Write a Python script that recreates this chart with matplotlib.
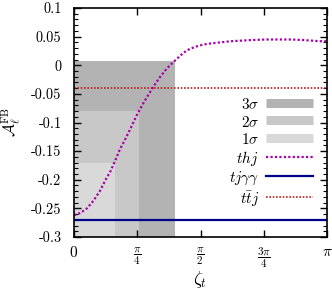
import numpy as np
import matplotlib
matplotlib.use("Agg")
import matplotlib.pyplot as plt
from matplotlib.lines import Line2D

plt.rcParams['font.family'] = 'serif'
plt.rcParams['font.serif'] = ['cmr10']
plt.rcParams['mathtext.fontset'] = 'cm'
plt.rcParams['axes.unicode_minus'] = False

# thj curve
zeta = [0.0, 0.08, 0.16, 0.24, 0.32, 0.40, 0.45, 0.51, 0.57, 0.63, 0.70, 0.78, 0.87,
        0.97, 1.06, 1.15, 1.26, 1.33, 1.40, 1.50, 1.60, 1.69, 1.82, 1.95, 2.08,
        2.20, 2.39, 2.55, 2.70, 2.85, 2.95, 3.05, 3.1416]
a_thj = [-0.262, -0.258, -0.250, -0.237, -0.220, -0.198, -0.186, -0.167, -0.147,
         -0.131, -0.111, -0.087, -0.064, -0.041, -0.022, -0.006, 0.009, 0.018,
         0.026, 0.032, 0.036, 0.038, 0.040, 0.042, 0.043, 0.044, 0.045, 0.045,
         0.045, 0.044, 0.043, 0.042, 0.042]
a_tjaa = -0.271
a_ttj = -0.040

# allowed regions: zeta edge, upper A, colour
sigma_labels = [r'$3\sigma$', r'$2\sigma$', r'$1\sigma$']
sigma_edges = [1.258, 0.807, 0.509]
sigma_tops = [0.008, -0.080, -0.171]
sigma_colors = ['#b3b3b3', '#c8c8c8', '#d9d9d9']

fig = plt.figure(figsize=(3.32, 2.91), dpi=100)
ax = fig.add_axes([74/332, 1-237/291, 253/332, 229/291])

for edge, top, c in zip(sigma_edges, sigma_tops, sigma_colors):
    ax.fill_between([0, edge], -0.3, top, color=c, lw=0)

ax.plot(zeta, a_thj, color='#aa00aa', ls=(0, (1, 1)), lw=1.6)
ax.axhline(a_tjaa, color='#00008b', lw=1.6)
ax.axhline(a_ttj, color='#b22222', ls=(0, (1, 1)), lw=1.2)

ax.set_xlim(0, np.pi)
ax.set_ylim(-0.3, 0.1)
ax.set_xticks([0, np.pi/4, np.pi/2, 3*np.pi/4, np.pi])
ax.set_xticklabels(['$0$', r'$\dfrac{\pi}{4}$', r'$\dfrac{\pi}{2}$', r'$\dfrac{3\pi}{4}$', r'$\pi$'])
yt = [0.1, 0.05, 0, -0.05, -0.1, -0.15, -0.2, -0.25, -0.3]
ax.set_yticks(yt)
ax.set_yticklabels(['0.1', '0.05', '0', '-0.05', '-0.1', '-0.15', '-0.2', '-0.25', '-0.3'])
ax.set_yticks(np.arange(-0.3, 0.1001, 0.01), minor=True)
ax.tick_params(direction='in', top=True, right=True, labelsize=11, length=5, width=1)
ax.tick_params(which='minor', direction='in', right=True, length=3, width=0.8)
ax.tick_params(axis='x', pad=6)
ax.tick_params(axis='y', pad=9, labelsize=10.3)
for lbl in ax.get_xticklabels()[1:4]:
    lbl.set_fontsize(8)
for s in ax.spines.values():
    s.set_linewidth(1.2)

fig.text(200/332, 1-284/291, r'$\zeta_t$', fontsize=13, ha='center', va='baseline')
fig.text(16/332, 1-122/291, r'$\mathcal{A}_\ell^{\rm FB}$', fontsize=11.5,
         rotation=90, ha='center', va='baseline', rotation_mode='anchor')

handles = [Line2D([], [], color=c, lw=6.5, solid_capstyle='butt') for c in sigma_colors]
handles += [Line2D([], [], color='#aa00aa', ls=(0, (1, 1)), lw=1.6),
            Line2D([], [], color='#00008b', lw=1.6),
            Line2D([], [], color='#b22222', ls=(0, (1, 1)), lw=1.2)]
labels = sigma_labels + ['$thj$', r'$tj\gamma\gamma$', r'$t\bar{t}j$']
ax.legend(handles, labels, loc='upper right', bbox_to_anchor=(0.945, 0.612),
          frameon=False, markerfirst=False, fontsize=11, handlelength=3.1,
          handleheight=1.1, labelspacing=0.12, borderpad=0, borderaxespad=0,
          handletextpad=0.45)

fig.savefig('out.png', dpi=100)
